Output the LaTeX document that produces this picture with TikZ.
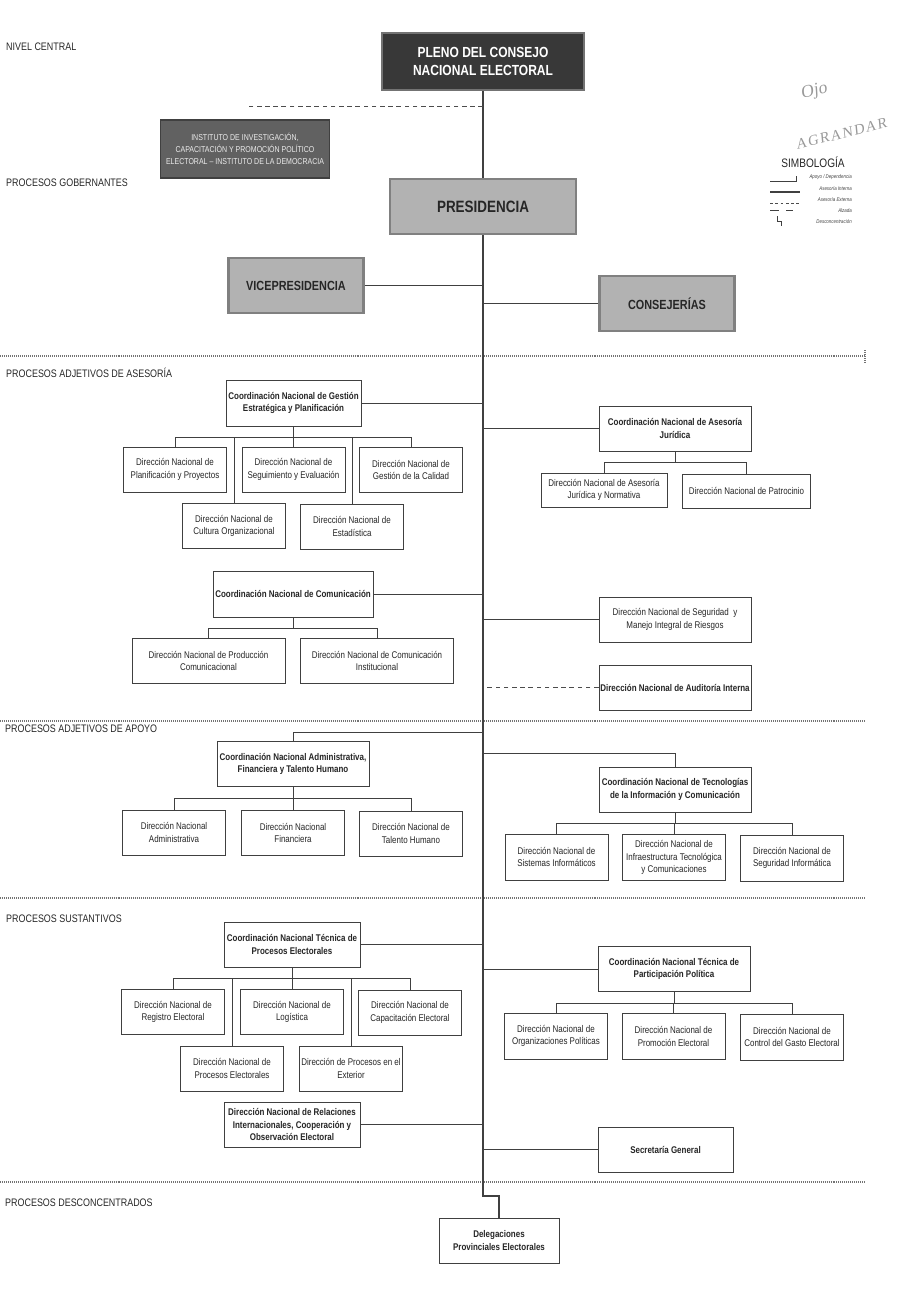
\documentclass[tikz,border=0pt]{standalone}
\usepackage{fontspec}
\setmainfont{Liberation Sans}[FakeStretch=0.82]
\newfontfamily\handfont{Liberation Serif}[FakeSlant=0.15]
\newcommand{\boxfont}{\fontsize{8.3}{10.4}\selectfont}
\newcommand{\lvlfont}{\fontsize{9.3}{11}\selectfont}
\tikzset{
  dbox/.style={
    draw=black!75, fill=white, line width=0.7pt,
    align=center, inner sep=1pt, text=black!85,
    minimum width=30.9mm, minimum height=13.5mm,
    font=\boxfont
  },
  cbox/.style={dbox, font=\boxfont\bfseries},
  dwide/.style={dbox, minimum width=45.9mm},
  cwide/.style={cbox, minimum width=45.6mm},
  gobbox/.style={
    draw=black!50, fill=black!30, line width=2.2pt,
    align=center, inner sep=1pt, text=black!85,
    minimum width=40.5mm, minimum height=16.5mm,
    font=\fontsize{11.3}{13}\selectfont\bfseries
  },
  plenobox/.style={
    draw=black!55, fill=black!78, line width=1.8pt,
    align=center, inner sep=1pt, text=white,
    minimum width=60.6mm, minimum height=17.1mm,
    font=\fontsize{12.5}{15}\selectfont\bfseries
  },
  instbox/.style={
    draw=black!75, fill=black!62, line width=1.6pt,
    align=center, inner sep=1pt, text=black!8,
    minimum width=50.7mm, minimum height=17.4mm,
    font=\fontsize{7.3}{10}\selectfont
  },
  conn/.style={draw=black!75, line width=0.7pt},
  mainline/.style={draw=black!75, line width=0.9pt},
  extline/.style={draw=black!70, line width=0.7pt, dash pattern=on 4pt off 3pt},
  sepline/.style={draw=black!55, line width=0.9pt, dash pattern=on 0.6pt off 1.1pt},
  lvl/.style={anchor=west, inner sep=0pt, font=\lvlfont, text=black!85},
  legtext/.style={anchor=east, inner sep=0pt, font=\fontsize{4.6}{5}\selectfont\itshape, text=black!75},
}

\begin{document}
\begin{tikzpicture}[x=0.3mm, y=-0.3mm]
  \useasboundingbox (0,0) rectangle (901,1292);

  % Level labels
  \node[lvl] (lcen) at (6,47) {NIVEL CENTRAL};
  \node[lvl] (lgob) at (6,183) {PROCESOS GOBERNANTES};
  \node[lvl] (lase) at (6,372.5) {PROCESOS ADJETIVOS DE ASESORÍA};
  \node[lvl] (lapo) at (5,729) {PROCESOS ADJETIVOS DE APOYO};
  \node[lvl] (lsus) at (6,919) {PROCESOS SUSTANTIVOS};
  \node[lvl] (ldes) at (5,1202.5) {PROCESOS DESCONCENTRADOS};

  % Dotted separators
  \foreach \y in {356,721,898,1182}
    \draw[sepline] (0,\y) -- (866,\y);
  \draw[sepline] (865,350) -- (865,362);

  % Points on the spine
  \coordinate (jog) at (483,1196);
  \coordinate (instjoin) at (483,106);
  \coordinate (instend) at (247,106);
  \coordinate (adminjoin) at (483,732);
  \coordinate (ticjoin) at (483,753);

  % Legend
  \node[font=\fontsize{10.5}{12}\selectfont, text=black!85] (simb) at (813,162) {SIMBOLOGÍA};
  \draw[conn, line width=0.5pt] (770,181) -- (796,181) -- (796,176);
  \draw[conn, line width=1.1pt] (770,192) -- (800,192);
  \draw[extline, line width=0.6pt, dash pattern=on 2.5pt off 2pt] (770,203) -- (800,203);
  \draw[conn, line width=0.6pt] (770,210) -- (779,210) (786,210) -- (793,210);
  \draw[conn, line width=0.5pt] (777,216) -- (777,221) -- (781,221) -- (781,226);
  \node[legtext] (lg1) at (852,177) {Apoyo / Dependencia};
  \node[legtext] (lg2) at (852,189) {Asesoría Interna};
  \node[legtext] (lg3) at (852,200) {Asesoría Externa};
  \node[legtext] (lg4) at (852,211) {Alzada};
  \node[legtext] (lg5) at (852,222) {Desconcentración};
  \node[font=\handfont\fontsize{15}{15}\selectfont, text=black!40, rotate=12, inner sep=0pt] (ojo) at (814,92) {Ojo};
  \node[anchor=south west, inner sep=0pt, rotate=14, text=black!40,
        font=\handfont\addfontfeatures{LetterSpace=10}\fontsize{12.5}{12.5}\selectfont] (agr) at (797,150) {AGRANDAR};

  % Nivel central and gobernantes
  \node[plenobox] (pleno) at (483,61.5) {PLENO DEL CONSEJO\\NACIONAL ELECTORAL};
  \node[instbox] (inst) at (245,149) {INSTITUTO DE INVESTIGACIÓN,\\CAPACITACIÓN Y PROMOCIÓN POLÍTICO\\ELECTORAL -- INSTITUTO DE LA DEMOCRACIA};
  \node[gobbox, minimum width=55.8mm, font=\fontsize{14}{16}\selectfont\bfseries] (pres) at (483,206.5) {PRESIDENCIA};
  \node[gobbox] (vice) at (296,285.5) {VICEPRESIDENCIA};
  \node[gobbox] (consej) at (667,303.5) {CONSEJERÍAS};

  \draw[mainline] (pleno.south) -- (pres.north);
  \draw[extline] (instjoin) -- (instend);
  \draw[conn] (vice.east) -- (vice.east -| jog);
  \draw[conn] (consej.west) -- (consej.west -| jog);

  % Asesoria: gestion estrategica
  \node[cbox, minimum width=40.5mm, minimum height=13.8mm] (gest) at (293.5,403) {Coordinación Nacional de Gestión\\Estratégica y Planificación};
  \node[dbox] (planif) at (175,469.5) {Dirección Nacional de\\Planificación y Proyectos};
  \node[dbox] (seguim) at (293.5,469.5) {Dirección Nacional de\\Seguimiento y Evaluación};
  \node[dbox] (calidad) at (411,470) {Dirección Nacional de\\Gestión de la Calidad};
  \node[dbox] (cultura) at (234,526) {Dirección Nacional de\\Cultura Organizacional};
  \node[dbox] (estad) at (352,526.5) {Dirección Nacional de\\Estadística};
  \coordinate (gbus) at (293.5,437);
  \draw[conn] (gest.south) -- (gbus);
  \draw[conn] (planif.north) -- (planif.north |- gbus) -- (calidad.north |- gbus) -- (calidad.north);
  \foreach \n in {seguim,cultura,estad}
    \draw[conn] (\n.north) -- (\n.north |- gbus);
  \draw[conn] (gest.east) -- (gest.east -| jog);

  % Asesoria: juridica
  \node[cwide] (jur) at (675,428.5) {Coordinación Nacional de Asesoría\\Jurídica};
  \node[dbox, minimum width=37.8mm, minimum height=10.2mm] (jurnor) at (604,490) {Dirección Nacional de Asesoría\\Jurídica y Normativa};
  \node[dbox, minimum width=38.4mm, minimum height=10.2mm] (patro) at (746.5,491) {Dirección Nacional de Patrocinio};
  \coordinate (jbus) at (675,462.5);
  \draw[conn] (jur.south) -- (jbus);
  \draw[conn] (jurnor.north) -- (jurnor.north |- jbus) -- (patro.north |- jbus) -- (patro.north);
  \draw[conn] (jur.west) -- (jur.west -| jog);

  % Asesoria: comunicacion
  \node[cbox, minimum width=48mm, minimum height=13.8mm] (comu) at (293,594) {Coordinación Nacional de Comunicación};
  \node[dwide] (produ) at (208.5,661) {Dirección Nacional de Producción\\Comunicacional};
  \node[dwide] (insti) at (377,661) {Dirección Nacional de Comunicación\\Institucional};
  \coordinate (cbus) at (293,628);
  \draw[conn] (comu.south) -- (cbus);
  \draw[conn] (produ.north) -- (produ.north |- cbus) -- (insti.north |- cbus) -- (insti.north);
  \draw[conn] (comu.east) -- (comu.east -| jog);

  % Asesoria: riesgos y auditoria
  \node[dbox, minimum width=45.6mm] (riesg) at (675,619.5) {Dirección Nacional de Seguridad\ \ y\\Manejo Integral de Riesgos};
  \node[cwide] (audit) at (675,687.5) {Dirección Nacional de Auditoría Interna};
  \draw[conn] (riesg.west) -- (riesg.west -| jog);
  \draw[extline] (audit.west) -- (audit.west -| jog);

  % Apoyo: administrativa
  \node[cwide] (admin) at (293,764) {Coordinación Nacional Administrativa,\\Financiera y Talento Humano};
  \node[dbox] (dadmin) at (174,832.5) {Dirección Nacional\\Administrativa};
  \node[dbox] (dfinan) at (293,833) {Dirección Nacional\\Financiera};
  \node[dbox] (dtalen) at (411,833.5) {Dirección Nacional de\\Talento Humano};
  \coordinate (abus) at (293,798);
  \draw[conn] (admin.south) -- (abus);
  \draw[conn] (dadmin.north) -- (dadmin.north |- abus) -- (dtalen.north |- abus) -- (dtalen.north);
  \draw[conn] (dfinan.north) -- (dfinan.north |- abus);
  \draw[conn] (admin.north) |- (adminjoin);

  % Apoyo: tecnologias
  \node[cwide] (tic) at (675,789.5) {Coordinación Nacional de Tecnologías\\de la Información y Comunicación};
  \node[dbox, minimum height=13.8mm] (dsist) at (556.5,857) {Dirección Nacional de\\Sistemas Informáticos};
  \node[dbox, minimum height=13.8mm] (dinfra) at (674,857.5) {Dirección Nacional de\\Infraestructura Tecnológica\\y Comunicaciones};
  \node[dbox, minimum height=13.8mm] (dsegi) at (792,858) {Dirección Nacional de\\Seguridad Informática};
  \coordinate (tbus) at (675,823.5);
  \draw[conn] (tic.south) -- (tbus);
  \draw[conn] (dsist.north) -- (dsist.north |- tbus) -- (dsegi.north |- tbus) -- (dsegi.north);
  \draw[conn] (dinfra.north) -- (dinfra.north |- tbus);
  \draw[conn] (ticjoin) -| (tic.north);

  % Sustantivos: procesos electorales
  \node[cbox, minimum width=40.8mm] (proc) at (292,944.5) {Coordinación Nacional Técnica de\\Procesos Electorales};
  \node[dbox] (regis) at (173,1012) {Dirección Nacional de\\Registro Electoral};
  \node[dbox] (logis) at (292,1012) {Dirección Nacional de\\Logística};
  \node[dbox] (capac) at (410,1012.5) {Dirección Nacional de\\Capacitación Electoral};
  \node[dbox] (dproc) at (232,1068.5) {Dirección Nacional de\\Procesos Electorales};
  \node[dbox] (exter) at (351,1068.5) {Dirección de Procesos en el\\Exterior};
  \coordinate (pbus) at (292,978);
  \draw[conn] (proc.south) -- (pbus);
  \draw[conn] (regis.north) -- (regis.north |- pbus) -- (capac.north |- pbus) -- (capac.north);
  \foreach \n in {logis,dproc,exter}
    \draw[conn] (\n.north) -- (\n.north |- pbus);
  \draw[conn] (proc.east) -- (proc.east -| jog);
  \node[cbox, minimum width=40.8mm] (relint) at (292,1124.5) {Dirección Nacional de Relaciones\\Internacionales, Cooperación y\\Observación Electoral};
  \draw[conn] (relint.east) -- (relint.east -| jog);

  % Sustantivos: participacion politica
  \node[cwide] (parti) at (674,969) {Coordinación Nacional Técnica de\\Participación Política};
  \node[dbox, minimum height=13.8mm] (dorga) at (556,1036) {Dirección Nacional de\\Organizaciones Políticas};
  \node[dbox, minimum height=13.8mm] (dprom) at (673.5,1036.5) {Dirección Nacional de\\Promoción Electoral};
  \node[dbox, minimum height=13.8mm] (dgast) at (792,1037) {Dirección Nacional de\\Control del Gasto Electoral};
  \coordinate (qbus) at (674,1003);
  \draw[conn] (parti.south) -- (qbus);
  \draw[conn] (dorga.north) -- (dorga.north |- qbus) -- (dgast.north |- qbus) -- (dgast.north);
  \draw[conn] (dprom.north) -- (dprom.north |- qbus);
  \draw[conn] (parti.west) -- (parti.west -| jog);
  \node[cbox, minimum width=40.5mm] (secre) at (665.5,1149.5) {Secretaría General};
  \draw[conn] (secre.west) -- (secre.west -| jog);

  % Desconcentrados
  \node[cbox, minimum width=36mm] (deleg) at (499,1240.5) {Delegaciones\\Provinciales Electorales};
  \draw[mainline] (pres.south) -- (jog) -| (deleg.north);

\end{tikzpicture}
\end{document}
